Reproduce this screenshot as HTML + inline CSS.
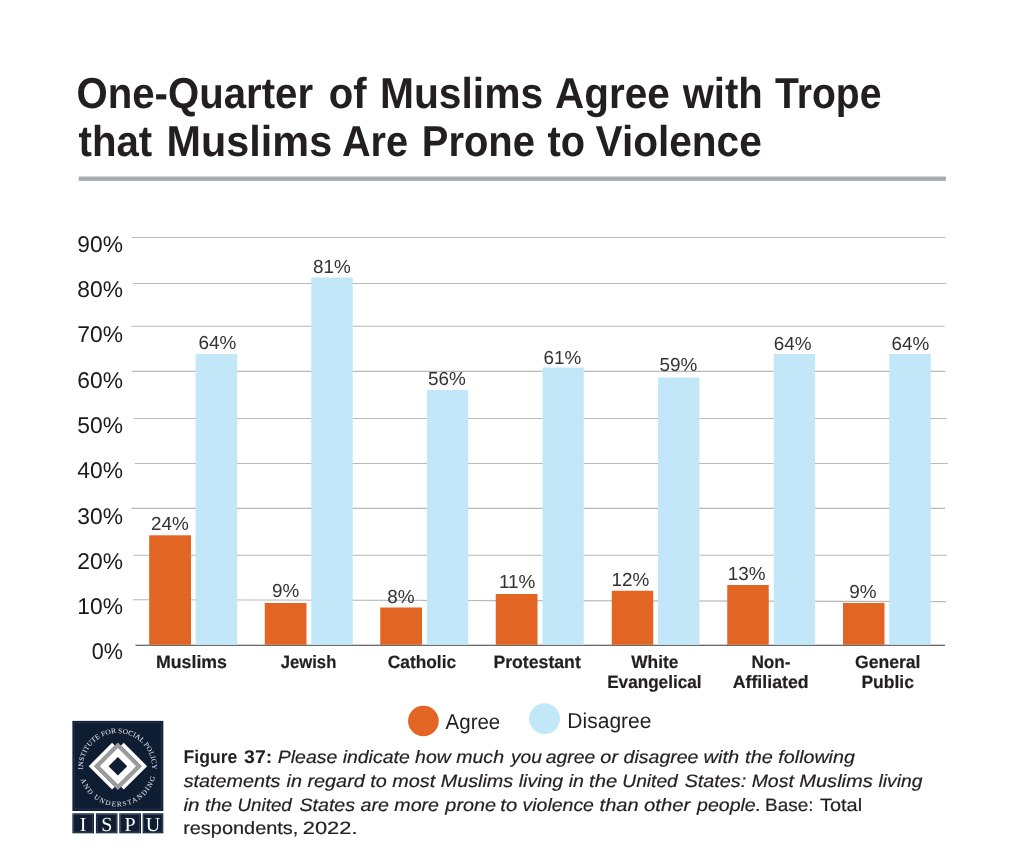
<!DOCTYPE html>
<html lang="en"><head><meta charset="utf-8">
<title>One-Quarter of Muslims Agree with Trope that Muslims Are Prone to Violence</title>
<style>html,body{margin:0;padding:0;background:#fff;}svg{display:block;}text{white-space:pre;text-rendering:geometricPrecision;}</style>
</head><body>
<svg width="1024" height="859" viewBox="0 0 1024 859" font-family="'Liberation Sans', sans-serif" text-rendering="geometricPrecision">
<rect width="1024" height="859" fill="#ffffff"/>
<rect x="78.7" y="176.55" width="867.1" height="4.35" fill="#a9abae"/>
<line x1="131.9" y1="237.5" x2="945.0" y2="237.5" stroke="#b9b9b9" stroke-width="1.1"/>
<line x1="132.9" y1="283.5" x2="946.2" y2="283.5" stroke="#b9b9b9" stroke-width="1.1"/>
<line x1="131.3" y1="326.3" x2="944.5" y2="326.3" stroke="#b9b9b9" stroke-width="1.1"/>
<line x1="132.1" y1="371.4" x2="945.2" y2="371.4" stroke="#b9b9b9" stroke-width="1.1"/>
<line x1="133.7" y1="418.5" x2="946.8" y2="418.5" stroke="#b9b9b9" stroke-width="1.1"/>
<line x1="134.8" y1="463.5" x2="948.0" y2="463.5" stroke="#b9b9b9" stroke-width="1.1"/>
<line x1="131.5" y1="508.4" x2="945.0" y2="508.4" stroke="#b9b9b9" stroke-width="1.1"/>
<line x1="133.5" y1="555.2" x2="946.8" y2="555.2" stroke="#b9b9b9" stroke-width="1.1"/>
<line x1="132.9" y1="599.7" x2="946.2" y2="601.6" stroke="#b9b9b9" stroke-width="1.1"/>
<line x1="135.5" y1="645.25" x2="945" y2="645.25" stroke="#3a3a3a" stroke-width="1.1"/>
<rect x="149.2" y="535.3" width="41.80" height="109.50" fill="#E36523"/>
<rect x="195.6" y="354.0" width="41.60" height="290.80" fill="#C1E7F9"/>
<rect x="264.75" y="603.0" width="41.75" height="41.80" fill="#E36523"/>
<rect x="311.25" y="277.5" width="41.50" height="367.30" fill="#C1E7F9"/>
<rect x="380.25" y="607.5" width="41.75" height="37.30" fill="#E36523"/>
<rect x="427.0" y="390.0" width="41.25" height="254.80" fill="#C1E7F9"/>
<rect x="495.75" y="594.0" width="41.75" height="50.80" fill="#E36523"/>
<rect x="542.5" y="367.5" width="41.25" height="277.30" fill="#C1E7F9"/>
<rect x="611.75" y="590.75" width="41.50" height="54.05" fill="#E36523"/>
<rect x="658.0" y="377.5" width="41.50" height="267.30" fill="#C1E7F9"/>
<rect x="727.25" y="585.0" width="41.50" height="59.80" fill="#E36523"/>
<rect x="773.75" y="354.0" width="41.25" height="290.80" fill="#C1E7F9"/>
<rect x="843.0" y="603.0" width="41.50" height="41.80" fill="#E36523"/>
<rect x="889.25" y="354.0" width="41.50" height="290.80" fill="#C1E7F9"/>
<text x="76.49" y="107.60" font-size="43.2" font-weight="bold" fill="#231f20" textLength="236.57" lengthAdjust="spacingAndGlyphs">One-Quarter</text>
<text x="328.75" y="107.60" font-size="43.2" font-weight="bold" fill="#231f20" textLength="37.82" lengthAdjust="spacingAndGlyphs">of</text>
<text x="379.95" y="107.60" font-size="43.2" font-weight="bold" fill="#231f20" textLength="163.20" lengthAdjust="spacingAndGlyphs">Muslims</text>
<text x="555.12" y="107.60" font-size="43.2" font-weight="bold" fill="#231f20" textLength="114.64" lengthAdjust="spacingAndGlyphs">Agree</text>
<text x="682.63" y="107.60" font-size="43.2" font-weight="bold" fill="#231f20" textLength="80.06" lengthAdjust="spacingAndGlyphs">with</text>
<text x="775.00" y="107.60" font-size="43.2" font-weight="bold" fill="#231f20" textLength="106.47" lengthAdjust="spacingAndGlyphs">Trope</text>
<text x="78.50" y="156.30" font-size="43.2" font-weight="bold" fill="#231f20" textLength="73.70" lengthAdjust="spacingAndGlyphs">that</text>
<text x="166.61" y="156.30" font-size="43.2" font-weight="bold" fill="#231f20" textLength="165.56" lengthAdjust="spacingAndGlyphs">Muslims</text>
<text x="341.88" y="156.30" font-size="43.2" font-weight="bold" fill="#231f20" textLength="66.11" lengthAdjust="spacingAndGlyphs">Are</text>
<text x="421.75" y="156.30" font-size="43.2" font-weight="bold" fill="#231f20" textLength="113.24" lengthAdjust="spacingAndGlyphs">Prone</text>
<text x="547.50" y="156.30" font-size="43.2" font-weight="bold" fill="#231f20" textLength="37.55" lengthAdjust="spacingAndGlyphs">to</text>
<text x="595.60" y="156.30" font-size="43.2" font-weight="bold" fill="#231f20" textLength="166.16" lengthAdjust="spacingAndGlyphs">Violence</text>
<text x="77.35" y="251.70" font-size="22.8" fill="#1a1a1a">90%</text>
<text x="77.35" y="297.00" font-size="22.8" fill="#1a1a1a">80%</text>
<text x="77.35" y="342.30" font-size="22.8" fill="#1a1a1a">70%</text>
<text x="77.35" y="387.60" font-size="22.8" fill="#1a1a1a">60%</text>
<text x="77.35" y="432.90" font-size="22.8" fill="#1a1a1a">50%</text>
<text x="77.35" y="478.20" font-size="22.8" fill="#1a1a1a">40%</text>
<text x="77.35" y="523.50" font-size="22.8" fill="#1a1a1a">30%</text>
<text x="77.35" y="568.80" font-size="22.8" fill="#1a1a1a">20%</text>
<text x="77.35" y="614.10" font-size="22.8" fill="#1a1a1a">10%</text>
<text x="91.83" y="659.40" font-size="22.8" fill="#1a1a1a" textLength="31.11" lengthAdjust="spacingAndGlyphs">0%</text>
<text x="151.02" y="529.60" font-size="18.9" fill="#333333">24%</text>
<text x="198.42" y="348.75" font-size="18.9" fill="#333333">64%</text>
<text x="272.08" y="597.00" font-size="18.9" fill="#333333">9%</text>
<text x="312.97" y="273.00" font-size="18.9" fill="#333333">81%</text>
<text x="387.33" y="602.50" font-size="18.9" fill="#333333">8%</text>
<text x="427.97" y="385.00" font-size="18.9" fill="#333333">56%</text>
<text x="498.98" y="588.00" font-size="18.9" fill="#333333">11%</text>
<text x="543.52" y="363.75" font-size="18.9" fill="#333333">61%</text>
<text x="611.38" y="585.75" font-size="18.9" fill="#333333">12%</text>
<text x="659.47" y="371.25" font-size="18.9" fill="#333333">59%</text>
<text x="727.68" y="580.00" font-size="18.9" fill="#333333">13%</text>
<text x="773.82" y="349.50" font-size="18.9" fill="#333333">64%</text>
<text x="849.18" y="598.00" font-size="18.9" fill="#333333">9%</text>
<text x="891.52" y="349.50" font-size="18.9" fill="#333333">64%</text>
<text x="155.99" y="667.60" font-size="17.9" font-weight="bold" stroke="#231f20" stroke-width="0.2" fill="#231f20" textLength="70.98" lengthAdjust="spacingAndGlyphs">Muslims</text>
<text x="280.75" y="667.60" font-size="17.9" font-weight="bold" stroke="#231f20" stroke-width="0.2" fill="#231f20" textLength="55.56" lengthAdjust="spacingAndGlyphs">Jewish</text>
<text x="387.71" y="667.60" font-size="17.9" font-weight="bold" stroke="#231f20" stroke-width="0.2" fill="#231f20" textLength="68.47" lengthAdjust="spacingAndGlyphs">Catholic</text>
<text x="493.39" y="667.60" font-size="17.9" font-weight="bold" stroke="#231f20" stroke-width="0.2" fill="#231f20" textLength="87.44" lengthAdjust="spacingAndGlyphs">Protestant</text>
<text x="631.25" y="667.90" font-size="17.9" font-weight="bold" stroke="#231f20" stroke-width="0.2" fill="#231f20" textLength="47.18" lengthAdjust="spacingAndGlyphs">White</text>
<text x="607.18" y="687.80" font-size="17.9" font-weight="bold" stroke="#231f20" stroke-width="0.2" fill="#231f20" textLength="94.33" lengthAdjust="spacingAndGlyphs">Evangelical</text>
<text x="751.42" y="667.60" font-size="17.9" font-weight="bold" stroke="#231f20" stroke-width="0.2" fill="#231f20" textLength="39.20" lengthAdjust="spacingAndGlyphs">Non-</text>
<text x="732.72" y="687.60" font-size="17.9" font-weight="bold" stroke="#231f20" stroke-width="0.2" fill="#231f20" textLength="75.91" lengthAdjust="spacingAndGlyphs">Affiliated</text>
<text x="854.95" y="667.80" font-size="17.9" font-weight="bold" stroke="#231f20" stroke-width="0.2" fill="#231f20" textLength="65.59" lengthAdjust="spacingAndGlyphs">General</text>
<text x="861.41" y="687.60" font-size="17.9" font-weight="bold" stroke="#231f20" stroke-width="0.2" fill="#231f20" textLength="52.53" lengthAdjust="spacingAndGlyphs">Public</text>
<text x="445.60" y="728.50" font-size="21.5" fill="#231f20" textLength="54.63" lengthAdjust="spacingAndGlyphs">Agree</text>
<text x="567.36" y="728.40" font-size="21.5" fill="#231f20" textLength="84.09" lengthAdjust="spacingAndGlyphs">Disagree</text>
<text x="183.50" y="762.60" font-size="18.4" font-weight="bold" fill="#231f20" textLength="53.84" lengthAdjust="spacingAndGlyphs">Figure</text>
<text x="244.10" y="762.60" font-size="18.4" font-weight="bold" fill="#231f20" textLength="28.12" lengthAdjust="spacingAndGlyphs">37:</text>
<text x="277.80" y="762.60" font-size="17.9" font-style="italic" stroke="#231f20" stroke-width="0.2" fill="#231f20" textLength="173.00" lengthAdjust="spacingAndGlyphs">Please indicate how</text>
<text x="456.19" y="762.60" font-size="17.9" font-style="italic" stroke="#231f20" stroke-width="0.2" fill="#231f20" textLength="47.82" lengthAdjust="spacingAndGlyphs">much</text>
<text x="510.95" y="762.60" font-size="17.9" font-style="italic" stroke="#231f20" stroke-width="0.2" fill="#231f20" textLength="30.92" lengthAdjust="spacingAndGlyphs">you</text>
<text x="545.70" y="762.60" font-size="17.9" font-style="italic" stroke="#231f20" stroke-width="0.2" fill="#231f20" textLength="49.61" lengthAdjust="spacingAndGlyphs">agree</text>
<text x="600.38" y="762.60" font-size="17.9" font-style="italic" stroke="#231f20" stroke-width="0.2" fill="#231f20" textLength="17.71" lengthAdjust="spacingAndGlyphs">or</text>
<text x="623.64" y="762.60" font-size="17.9" font-style="italic" stroke="#231f20" stroke-width="0.2" fill="#231f20" textLength="74.83" lengthAdjust="spacingAndGlyphs">disagree</text>
<text x="703.56" y="762.60" font-size="17.9" font-style="italic" stroke="#231f20" stroke-width="0.2" fill="#231f20" textLength="35.68" lengthAdjust="spacingAndGlyphs">with</text>
<text x="745.13" y="762.60" font-size="17.9" font-style="italic" stroke="#231f20" stroke-width="0.2" fill="#231f20" textLength="27.71" lengthAdjust="spacingAndGlyphs">the</text>
<text x="778.39" y="762.60" font-size="17.9" font-style="italic" stroke="#231f20" stroke-width="0.2" fill="#231f20" textLength="76.49" lengthAdjust="spacingAndGlyphs">following</text>
<text x="183.75" y="786.60" font-size="17.9" font-style="italic" stroke="#231f20" stroke-width="0.2" fill="#231f20" textLength="96.56" lengthAdjust="spacingAndGlyphs">statements</text>
<text x="286.59" y="786.60" font-size="17.9" font-style="italic" stroke="#231f20" stroke-width="0.2" fill="#231f20" textLength="148.60" lengthAdjust="spacingAndGlyphs">in regard to most</text>
<text x="440.69" y="786.60" font-size="17.9" font-style="italic" stroke="#231f20" stroke-width="0.2" fill="#231f20" textLength="72.51" lengthAdjust="spacingAndGlyphs">Muslims</text>
<text x="518.69" y="786.60" font-size="17.9" font-style="italic" stroke="#231f20" stroke-width="0.2" fill="#231f20" textLength="44.57" lengthAdjust="spacingAndGlyphs">living</text>
<text x="568.69" y="786.60" font-size="17.9" font-style="italic" stroke="#231f20" stroke-width="0.2" fill="#231f20" textLength="15.29" lengthAdjust="spacingAndGlyphs">in</text>
<text x="589.12" y="786.60" font-size="17.9" font-style="italic" stroke="#231f20" stroke-width="0.2" fill="#231f20" textLength="28.13" lengthAdjust="spacingAndGlyphs">the</text>
<text x="622.30" y="786.60" font-size="17.9" font-style="italic" stroke="#231f20" stroke-width="0.2" fill="#231f20" textLength="55.48" lengthAdjust="spacingAndGlyphs">United</text>
<text x="684.69" y="786.60" font-size="17.9" font-style="italic" stroke="#231f20" stroke-width="0.2" fill="#231f20" textLength="61.51" lengthAdjust="spacingAndGlyphs">States:</text>
<text x="751.70" y="786.60" font-size="17.9" font-style="italic" stroke="#231f20" stroke-width="0.2" fill="#231f20" textLength="42.10" lengthAdjust="spacingAndGlyphs">Most</text>
<text x="799.19" y="786.60" font-size="17.9" font-style="italic" stroke="#231f20" stroke-width="0.2" fill="#231f20" textLength="73.67" lengthAdjust="spacingAndGlyphs">Muslims</text>
<text x="878.45" y="786.60" font-size="17.9" font-style="italic" stroke="#231f20" stroke-width="0.2" fill="#231f20" textLength="43.93" lengthAdjust="spacingAndGlyphs">living</text>
<text x="183.43" y="810.50" font-size="17.9" font-style="italic" stroke="#231f20" stroke-width="0.2" fill="#231f20" textLength="16.10" lengthAdjust="spacingAndGlyphs">in</text>
<text x="204.99" y="810.50" font-size="17.9" font-style="italic" stroke="#231f20" stroke-width="0.2" fill="#231f20" textLength="27.09" lengthAdjust="spacingAndGlyphs">the</text>
<text x="237.58" y="810.50" font-size="17.9" font-style="italic" stroke="#231f20" stroke-width="0.2" fill="#231f20" textLength="54.22" lengthAdjust="spacingAndGlyphs">United</text>
<text x="299.44" y="810.50" font-size="17.9" font-style="italic" stroke="#231f20" stroke-width="0.2" fill="#231f20" textLength="139.55" lengthAdjust="spacingAndGlyphs">States are more</text>
<text x="445.37" y="810.50" font-size="17.9" font-style="italic" stroke="#231f20" stroke-width="0.2" fill="#231f20" textLength="50.74" lengthAdjust="spacingAndGlyphs">prone</text>
<text x="500.37" y="810.50" font-size="17.9" font-style="italic" stroke="#231f20" stroke-width="0.2" fill="#231f20" textLength="16.88" lengthAdjust="spacingAndGlyphs">to</text>
<text x="522.59" y="810.50" font-size="17.9" font-style="italic" stroke="#231f20" stroke-width="0.2" fill="#231f20" textLength="71.35" lengthAdjust="spacingAndGlyphs">violence</text>
<text x="599.62" y="810.50" font-size="17.9" font-style="italic" stroke="#231f20" stroke-width="0.2" fill="#231f20" textLength="38.94" lengthAdjust="spacingAndGlyphs">than</text>
<text x="644.12" y="810.50" font-size="17.9" font-style="italic" stroke="#231f20" stroke-width="0.2" fill="#231f20" textLength="46.13" lengthAdjust="spacingAndGlyphs">other</text>
<text x="697.11" y="810.50" font-size="17.9" font-style="italic" stroke="#231f20" stroke-width="0.2" fill="#231f20" textLength="64.01" lengthAdjust="spacingAndGlyphs">people.</text>
<text x="765.02" y="810.50" font-size="17.9" stroke="#231f20" stroke-width="0.2" fill="#231f20" textLength="48.48" lengthAdjust="spacingAndGlyphs">Base:</text>
<text x="819.94" y="810.50" font-size="17.9" stroke="#231f20" stroke-width="0.2" fill="#231f20" textLength="42.13" lengthAdjust="spacingAndGlyphs">Total</text>
<text x="183.15" y="834.40" font-size="17.9" stroke="#231f20" stroke-width="0.2" fill="#231f20" textLength="115.23" lengthAdjust="spacingAndGlyphs">respondents,</text>
<text x="302.72" y="834.40" font-size="17.9" stroke="#231f20" stroke-width="0.2" fill="#231f20" textLength="54.75" lengthAdjust="spacingAndGlyphs">2022.</text>
<circle cx="423.4" cy="721.0" r="15.35" fill="#E36523"/>
<circle cx="544.55" cy="718.6" r="15.45" fill="#C1E7F9"/>
<g id="logo">
<rect x="72.4" y="720.9" width="90.9" height="90.1" fill="#0f1d33"/>
<rect x="74.2" y="722.7" width="87.3" height="86.5" fill="none" stroke="#5d6b80" stroke-width="0.5" stroke-dasharray="1 0.6"/>
<rect x="72.4" y="813.3" width="21.60" height="20.0" fill="#0f1d33"/>
<rect x="73.60000000000001" y="814.5" width="19.20" height="17.6" fill="none" stroke="#5d6b80" stroke-width="0.5"/>
<text x="83.20" y="830.6" font-family="'Liberation Serif', serif" font-size="20" fill="#ffffff" text-anchor="middle">I</text>
<rect x="95.9" y="813.3" width="21.60" height="20.0" fill="#0f1d33"/>
<rect x="97.10000000000001" y="814.5" width="19.20" height="17.6" fill="none" stroke="#5d6b80" stroke-width="0.5"/>
<text x="106.70" y="830.6" font-family="'Liberation Serif', serif" font-size="20" fill="#ffffff" text-anchor="middle">S</text>
<rect x="119.3" y="813.3" width="21.70" height="20.0" fill="#0f1d33"/>
<rect x="120.5" y="814.5" width="19.30" height="17.6" fill="none" stroke="#5d6b80" stroke-width="0.5"/>
<text x="130.15" y="830.6" font-family="'Liberation Serif', serif" font-size="20" fill="#ffffff" text-anchor="middle">P</text>
<rect x="142.6" y="813.3" width="20.70" height="20.0" fill="#0f1d33"/>
<rect x="143.79999999999998" y="814.5" width="18.30" height="17.6" fill="none" stroke="#5d6b80" stroke-width="0.5"/>
<text x="152.95" y="830.6" font-family="'Liberation Serif', serif" font-size="20" fill="#ffffff" text-anchor="middle">U</text>
<polyline points="113.45,744.20 91.45,766.2 113.45,788.20" fill="none" stroke="#ffffff" stroke-width="3.9" stroke-linejoin="miter"/>
<polyline points="122.35,744.20 144.35,766.2 122.35,788.20" fill="none" stroke="#ffffff" stroke-width="3.9" stroke-linejoin="miter"/>
<polygon points="94.10,766.2 117.9,742.40 141.70,766.2 117.9,790.00" fill="#9b9b9b"/>
<polygon points="99.80,766.2 117.9,748.10 136.00,766.2 117.9,784.30" fill="#ffffff"/>
<polygon points="108.60,766.2 117.9,756.90 127.20,766.2 117.9,775.50" fill="#0f1d33"/>
<defs><path id="arcTop" d="M 83.15,769.41 A 34.5,34.5 0 1 1 152.05,769.41"/>
<path id="arcBot" d="M 80.70,779.59 A 38.8,38.8 0 0 0 155.08,777.64"/></defs>
<text font-family="'Liberation Serif', serif" font-size="7.1" fill="#eef0f3" textLength="112.0" lengthAdjust="spacingAndGlyphs"><textPath href="#arcTop" textLength="112.0" lengthAdjust="spacingAndGlyphs">INSTITUTE FOR SOCIAL POLICY</textPath></text>
<text font-family="'Liberation Serif', serif" font-size="7.1" fill="#eef0f3" textLength="99.5" lengthAdjust="spacing"><textPath href="#arcBot" textLength="99.5" lengthAdjust="spacing">AND UNDERSTANDING</textPath></text>
</g>
</svg>
</body></html>
